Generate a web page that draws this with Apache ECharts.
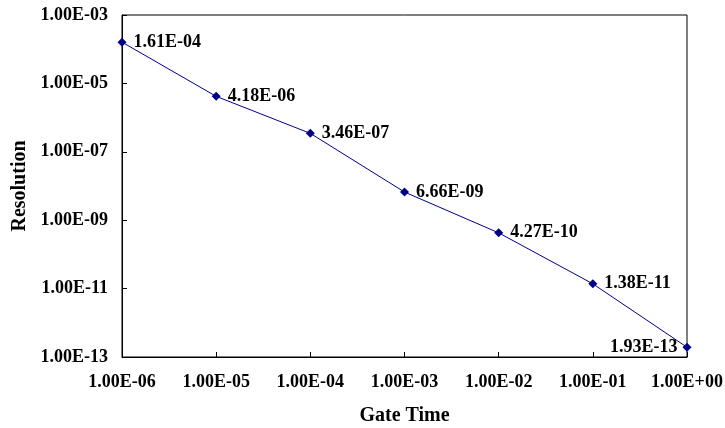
<!DOCTYPE html>
<html>
<head>
<meta charset="utf-8">
<script src="https://cdn.jsdelivr.net/npm/echarts@6/dist/echarts.min.js"></script>
<style>
  html, body { margin: 0; padding: 0; background: #fff; }
  #chart { width: 725px; height: 428px; }
</style>
</head>
<body>
<div id="chart"></div>
<script>
// gate time (s) and resolution
const gateTime = [1e-6, 1e-5, 1e-4, 1e-3, 1e-2, 1e-1, 1]
const resolution = [1.61e-4, 4.18e-6, 3.46e-7, 6.66e-9, 4.27e-10, 1.38e-11, 1.93e-13]

const serif = 'Liberation Serif, Times New Roman, serif'

// 1.00E-03 style, like the spreadsheet
function sci(v) {
  const s = Number(v).toExponential(2)
  const parts = s.split('e')
  let exp = parseInt(parts[1], 10)
  const sign = exp < 0 ? '-' : '+'
  exp = Math.abs(exp)
  return parts[0] + 'E' + sign + (exp < 10 ? '0' + exp : '' + exp)
}

const chart = echarts.init(document.getElementById('chart'))
const points = gateTime.map((x, i) => {
  const p = { value: [x, resolution[i]] }
  if (i === gateTime.length - 1) {
    p.label = { position: 'left', distance: 5 }
  }
  return p
})

chart.setOption({
  animation: false,
  backgroundColor: '#fff',
  grid: {
    left: 122,
    right: 38,
    top: 15,
    bottom: 71,
    show: true,
    borderColor: '#000',
    borderWidth: 1,
    containLabel: false,
    outerBoundsMode: 'none'
  },
  xAxis: {
    type: 'log',
    logBase: 10,
    min: 1e-6,
    max: 1,
    interval: 1,
    name: 'Gate Time',
    nameLocation: 'middle',
    nameGap: 49,
    nameTextStyle: { fontFamily: serif, fontWeight: 'bold', fontSize: 20, color: '#000' },
    axisLine: { lineStyle: { color: '#000', width: 1 } },
    axisTick: { inside: true, length: 5, lineStyle: { color: '#000' } },
    axisLabel: {
      formatter: sci, margin: 16,
      fontFamily: serif, fontWeight: 'bold', fontSize: 18, color: '#000'
    },
    splitLine: { show: false },
    minorTick: { show: false }
  },
  yAxis: {
    type: 'log',
    logBase: 10,
    min: 1e-13,
    max: 1e-3,
    interval: 2,
    name: 'Resolution',
    nameLocation: 'middle',
    nameGap: 92,
    nameTextStyle: { fontFamily: serif, fontWeight: 'bold', fontSize: 20, color: '#000' },
    axisLine: { show: true, lineStyle: { color: '#000', width: 1 } },
    axisTick: { show: true, inside: true, length: 5, lineStyle: { color: '#000' } },
    axisLabel: {
      formatter: sci, margin: 14,
      fontFamily: serif, fontWeight: 'bold', fontSize: 18, color: '#000'
    },
    splitLine: { show: false }
  },
  series: [{
    type: 'line',
    data: points,
    symbol: 'diamond',
    symbolSize: 9,
    lineStyle: { color: '#00008b', width: 1 },
    itemStyle: { color: '#00008b' },
    label: {
      show: true,
      position: 'right',
      distance: 7,
      formatter: p => sci(p.value[1]),
      fontFamily: serif, fontWeight: 'bold', fontSize: 18, color: '#000'
    }
  }]
})
</script>
</body>
</html>
